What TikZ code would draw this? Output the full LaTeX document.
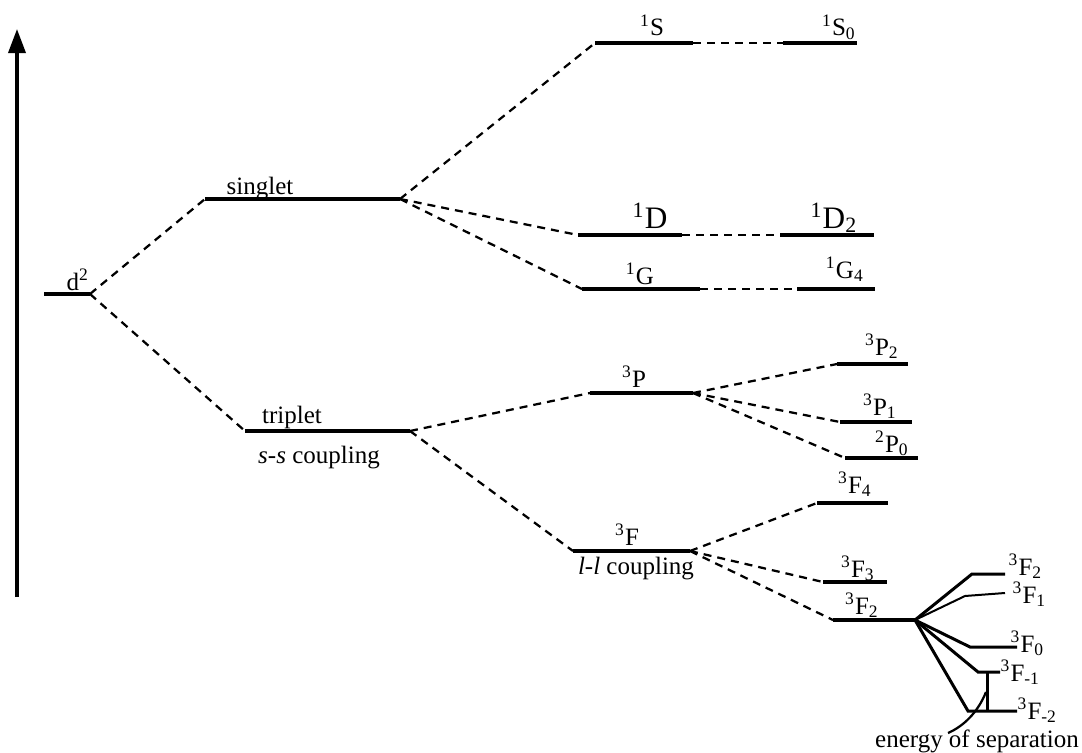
\documentclass[tikz,border=0pt]{standalone}
\usepackage{fontspec}
\setmainfont{Liberation Serif}
\usetikzlibrary{arrows.meta}

\begin{document}
\begin{tikzpicture}[x=0.4pt,y=-0.4pt,
    lvl/.style={line width=1.4pt},
    link/.style={line width=0.9pt, dash pattern=on 3.2pt off 2.4pt},
    fan/.style={line width=1.2pt},
    lab/.style={anchor=base, inner sep=0pt, font=\fontsize{10}{12}\selectfont},
    rlab/.style={lab, anchor=base west},
    big/.style={lab, font=\fontsize{12.5}{14}\selectfont}]
    \useasboundingbox (0,0) rectangle (1082,753);

    % energy axis
    \coordinate (ax0) at (17,597);
    \coordinate (ax1) at (17,29);
    \draw[line width=1.4pt, -{Triangle[length=9.6pt,width=6.8pt]}] (ax0) -- (ax1);

    % levels
    \draw[lvl] (44,294) coordinate (d2L) -- (90,294) coordinate (d2R);
    \draw[lvl] (205,199) coordinate (sgL) -- (400,199) coordinate (sgR);
    \draw[lvl] (245,431) coordinate (trL) -- (410,431) coordinate (trR);
    \draw[lvl] (595,43) coordinate (SL) -- (693,43) coordinate (SR);
    \draw[lvl] (783,43) coordinate (SzL) -- (857,43) coordinate (SzR);
    \draw[lvl] (578,235) coordinate (DL) -- (682,235) coordinate (DR);
    \draw[lvl] (780,235) coordinate (DtL) -- (874,235) coordinate (DtR);
    \draw[lvl] (582,289) coordinate (GL) -- (700,289) coordinate (GR);
    \draw[lvl] (797,289) coordinate (GfL) -- (875,289) coordinate (GfR);
    \draw[lvl] (590,393) coordinate (PL) -- (693,393) coordinate (PR);
    \draw[lvl] (837,364) coordinate (PtL) -- (908,364) coordinate (PtR);
    \draw[lvl] (840,422) coordinate (PoL) -- (912,422) coordinate (PoR);
    \draw[lvl] (845,458) coordinate (PzL) -- (918,458) coordinate (PzR);
    \draw[lvl] (573,551) coordinate (FL) -- (690,551) coordinate (FR);
    \draw[lvl] (817,503) coordinate (FfL) -- (888,503) coordinate (FfR);
    \draw[lvl] (823,582) coordinate (FhL) -- (887,582) coordinate (FhR);
    \draw[lvl] (833,620) coordinate (FtL) -- (915,620) coordinate (FtR);

    \node[lab] (d2lab) at (78,290) {d\textsuperscript{2}};
    \node[lab] (sglab) at (260,194) {singlet};
    \node[lab] (trlab) at (292,423) {triplet};
    \node[lab] (sslab) at (319,463) {\textit{s-s} coupling};
    \node[lab] (Slab) at (652,36) {\textsuperscript{1}S};
    \node[lab] (Szlab) at (839,36) {\textsuperscript{1}S\textsubscript{0}};
    \node[big] (Dlab) at (650,228) {\textsuperscript{1}D};
    \node[big] (Dtlab) at (834,228) {\textsuperscript{1}D\textsubscript{2}};
    \node[lab] (Glab) at (640,284) {\textsuperscript{1}G};
    \node[lab] (Gflab) at (845,278) {\textsuperscript{1}G\textsubscript{4}};
    \node[lab] (Plab) at (634,387) {\textsuperscript{3}P};
    \node[lab] (Ptlab) at (882,355) {\textsuperscript{3}P\textsubscript{2}};
    \node[lab] (Polab) at (880,415) {\textsuperscript{3}P\textsubscript{1}};
    \node[lab] (Pzlab) at (892,452) {\textsuperscript{2}P\textsubscript{0}};
    \node[lab] (Flab) at (627,545) {\textsuperscript{3}F};
    \node[lab] (lllab) at (636,574) {\textit{l-l} coupling};
    \node[lab] (Fflab) at (855,493) {\textsuperscript{3}F\textsubscript{4}};
    \node[lab] (Fhlab) at (858,577) {\textsuperscript{3}F\textsubscript{3}};
    \node[lab] (Ftlab) at (862,614) {\textsuperscript{3}F\textsubscript{2}};

    % couplings
    \draw[link] (d2R) -- (sgL);
    \draw[link] (d2R) -- (trL);
    \draw[link] (sgR) -- (SL);
    \draw[link] (sgR) -- (DL);
    \draw[link] (sgR) -- (GL);
    \draw[link] (SR) -- (SzL);
    \draw[link] (DR) -- (DtL);
    \draw[link] (GR) -- (GfL);
    \draw[link] (trR) -- (PL);
    \draw[link] (trR) -- (FL);
    \draw[link] (PR) -- (PtL);
    \draw[link] (PR) -- (PoL);
    \draw[link] (PR) -- (PzL);
    \draw[link] (FR) -- (FfL);
    \draw[link] (FR) -- (FhL);
    \draw[link] (FR) -- (FtL);

    % splitting of 3F2
    \draw[fan] (FtR) -- (972,574) coordinate (k2) -- (1005,574) coordinate (k2e);
    \draw[fan, line width=0.8pt] (FtR) -- (965,596) coordinate (k1) -- (1005,593) coordinate (k1e);
    \draw[fan] (FtR) -- (970,647) coordinate (k0) -- (1017,647) coordinate (k0e);
    \draw[fan] (FtR) -- (978,672) coordinate (km1) -- (1000,672) coordinate (km1e);
    \draw[fan] (FtR) -- (968,711) coordinate (km2) -- (1017,711) coordinate (km2e);

    \node[rlab] (k2lab) at (1008,575) {\textsuperscript{3}F\textsubscript{2}};
    \node[rlab] (k1lab) at (1012,603) {\textsuperscript{3}F\textsubscript{1}};
    \node[rlab] (k0lab) at (1010,652) {\textsuperscript{3}F\textsubscript{0}};
    \node[rlab] (km1lab) at (1000,681) {\textsuperscript{3}F\textsubscript{-1}};
    \node[rlab] (km2lab) at (1017,719) {\textsuperscript{3}F\textsubscript{-2}};

    \coordinate (sepA) at (987,672);
    \coordinate (sepB) at (987,711);
    \coordinate (sepC) at (948,733);
    \coordinate (sepD) at (986,692);
    \draw[fan] (sepA) -- (sepB);
    \draw[line width=0.9pt] (sepC) .. controls (964,726) and (978,712) .. (sepD);
    \node[lab] (seplab) at (977,747) {energy of separation};
\end{tikzpicture}
\end{document}
